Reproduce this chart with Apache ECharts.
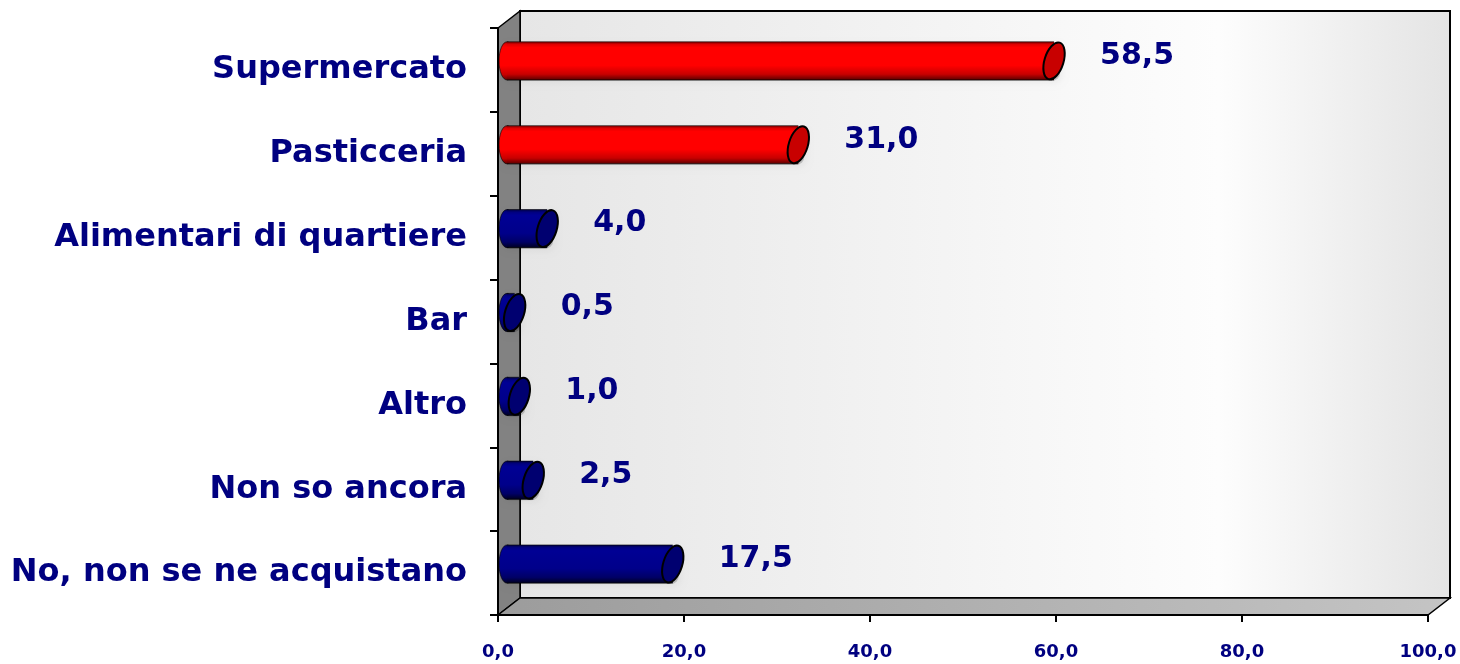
<!DOCTYPE html>
<html><head><meta charset="utf-8">
<script src="https://cdn.jsdelivr.net/npm/echarts@6/dist/echarts.min.js"></script>
<style>html,body{margin:0;padding:0;background:#fff}#c{width:1460px;height:664px}</style>
</head><body><div id="c"></div>
<script>
var categories = ['Supermercato','Pasticceria','Alimentari di quartiere','Bar','Altro','Non so ancora','No, non se ne acquistano'];
var values = [58.5, 31.0, 4.0, 0.5, 1.0, 2.5, 17.5];
var xTicks = [0, 20, 40, 60, 80, 100];
var barPalette = ['red','red','navy','navy','navy','navy','navy'];

var G = {left:498, right:32, top:28, bottom:49};
var W = 1460, H = 664;
var DX = 22, DY = 17;
var FONT = '"DejaVu Sans", Verdana, sans-serif';

var styles = {
  red: {body:[[0,'#7a0000'],[0.07,'#e00000'],[0.15,'#ff0000'],[0.62,'#ff0000'],[0.85,'#c80000'],[1,'#5a0000']], cap:'#c80000'},
  navy:{body:[[0,'#000040'],[0.07,'#000080'],[0.15,'#000094'],[0.62,'#00008a'],[0.85,'#000066'],[1,'#000020']], cap:'#000070'}
};
function grad(stops){
  return new echarts.graphic.LinearGradient(0,0,0,1, stops.map(function(s){return {offset:s[0], color:s[1]};}));
}

function renderItem(params, api){
  var v = api.value(0), idx = api.value(1);
  var p0 = api.coord([0, idx]);
  var p1 = api.coord([v, idx]);
  var band = api.size([0,1])[1];
  var h = band*0.455;
  var cy = p0[1] - band*0.108;
  var st = styles[barPalette[idx]];
  var leftX = p0[0] + 9;
  var capX = p1[0] + 12;
  var top = cy - h/2;
  var children = [
    {type:'rect', shape:{x:leftX-6, y:top+1, width:Math.max(capX-leftX+12,0), height:h, r:8}, style:{fill:'rgba(0,0,0,0.18)', shadowBlur:6, shadowColor:'rgba(0,0,0,0.25)', shadowOffsetX:2, shadowOffsetY:2}},
    {type:'ellipse', shape:{cx:leftX, cy:cy, rx:8, ry:h/2}, style:{fill:grad(st.body), stroke:'rgba(0,0,0,0.6)', lineWidth:1}},
    {type:'rect', shape:{x:leftX, y:top, width:Math.max(capX-leftX,0), height:h}, style:{fill:grad(st.body)}},
    {type:'line', shape:{x1:leftX, y1:top, x2:capX, y2:top}, style:{stroke:'rgba(0,0,0,0.55)', lineWidth:1}},
    {type:'line', shape:{x1:leftX, y1:top+h, x2:capX, y2:top+h}, style:{stroke:'rgba(0,0,0,0.7)', lineWidth:1}},
    {type:'ellipse', shape:{cx:0, cy:0, rx:9.5, ry:h/2}, x:capX, y:cy, rotation:-0.3, style:{fill:st.cap, stroke:'#000', lineWidth:2}},
    {type:'text', x:p1[0]+58, y:cy-5, style:{text:api.value(0).toFixed(1).replace('.',','), fill:'#000080', font:'bold 30px '+FONT, verticalAlign:'middle', align:'left'}}
  ];
  return {type:'group', children:children};
}

var x0 = G.left, x1 = W - G.right, y0 = G.top, y1 = H - G.bottom;
var graphics = [
  {type:'rect', z:-10, shape:{x:x0+DX, y:y0-DY, width:x1-x0, height:y1-y0},
   style:{fill:new echarts.graphic.LinearGradient(0,0,1,0,[{offset:0,color:'#e6e6e6'},{offset:0.75,color:'#fdfdfd'},{offset:1,color:'#e4e4e4'}]), stroke:'#000', lineWidth:2}},
  {type:'polygon', z:-9, shape:{points:[[x0,y0],[x0+DX,y0-DY],[x0+DX,y1-DY],[x0,y1]]}, style:{fill:'#828282', stroke:'#000', lineWidth:1.5}},
  {type:'polygon', z:-9, shape:{points:[[x0,y1],[x0+DX,y1-DY],[x1+DX,y1-DY],[x1,y1]]},
   style:{fill:new echarts.graphic.LinearGradient(0,0,1,0,[{offset:0,color:'#9c9c9c'},{offset:1,color:'#c4c4c4'}]), stroke:'#000', lineWidth:1.5}}
];

var chart = echarts.init(document.getElementById('c'), null, {renderer:'canvas'});
chart.setOption({
  animation:false,
  backgroundColor:'#fff',
  grid:{left:G.left, right:G.right, top:G.top, bottom:G.bottom, containLabel:false},
  graphic:graphics,
  xAxis:{type:'value', min:0, max:100, interval:20,
    axisLine:{show:true, lineStyle:{color:'#000', width:2}},
    axisTick:{show:true, length:7, lineStyle:{color:'#000', width:2}},
    splitLine:{show:false},
    axisLabel:{margin:28, color:'#000080', fontWeight:'bold', fontSize:18, fontFamily:FONT,
      formatter:function(v){return v.toFixed(1).replace('.',',');}}
  },
  yAxis:{type:'category', data:categories, inverse:true,
    axisLine:{show:true, lineStyle:{color:'#000', width:2}},
    axisTick:{show:true, length:8, lineStyle:{color:'#000', width:2}},
    splitLine:{show:false},
    axisLabel:{margin:31, color:'#000080', fontWeight:'bold', fontSize:32, fontFamily:FONT}
  },
  series:[{type:'custom', renderItem:renderItem, clip:false,
    encode:{x:0, y:1},
    data:values.map(function(v,i){return [v,i];})
  }]
});
</script></body></html>
